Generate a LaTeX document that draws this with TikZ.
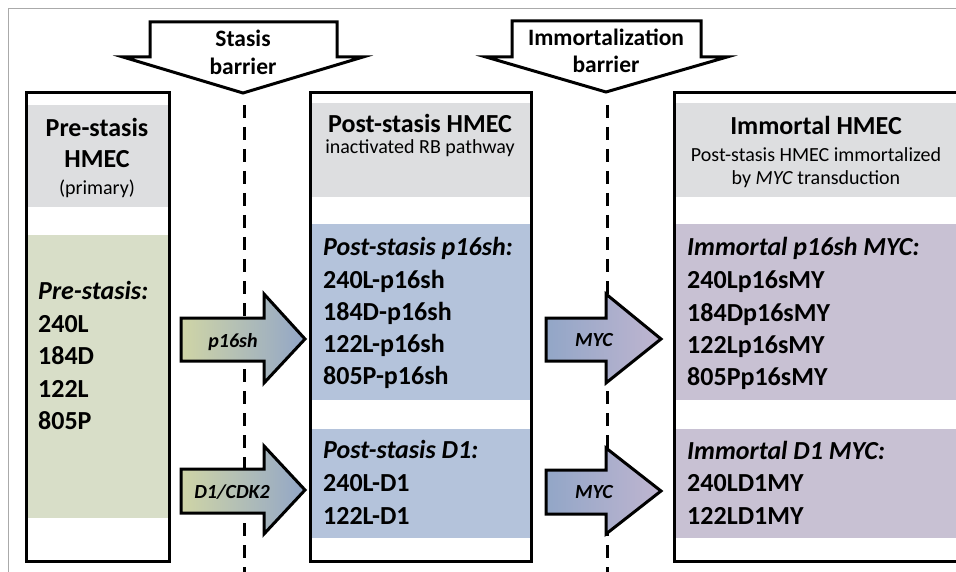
\documentclass[tikz,border=0pt]{standalone}
\usepackage{fontspec}
\setmainfont{Carlito}
\definecolor{hdrgray}{HTML}{DDDEE0}
\definecolor{bandgreen}{HTML}{D8DEC8}
\definecolor{bandblue}{HTML}{B4C3DB}
\definecolor{bandpurple}{HTML}{C8C1D3}
\definecolor{arrgreen}{HTML}{D0D5A6}
\definecolor{arrblue}{HTML}{92A6C7}
\definecolor{arrpurple}{HTML}{BFB5D0}
\definecolor{framegray}{HTML}{AAAAAA}
\begin{document}
\begin{tikzpicture}[x=1pt,y=-1pt,
  boxframe/.style={draw=black,line width=3pt},
  blockarrow/.style={draw=black,line width=3pt,line join=miter},
  barrierline/.style={draw=black,line width=3pt,dash pattern=on 13pt off 9pt},
  titletext/.style={inner sep=0pt,anchor=base,font=\bfseries\fontsize{26}{30}\selectfont},
  subtext/.style={inner sep=0pt,anchor=base,font=\fontsize{20}{24}\selectfont},
  itemtext/.style={inner sep=0pt,anchor=base west,font=\bfseries\fontsize{26}{30}\selectfont},
  headtext/.style={inner sep=0pt,anchor=base west,font=\bfseries\itshape\fontsize{26}{30}\selectfont},
  barriertext/.style={inner sep=0pt,anchor=base,font=\bfseries\fontsize{23.5}{27}\selectfont},
  arrowtext/.style={inner sep=0pt,anchor=base,font=\bfseries\itshape\fontsize{20}{23}\selectfont}]
\useasboundingbox (0,0) rectangle (956,572);
\fill[white] (0,0) rectangle (956,572);
% outer gray frame (cropped)
\draw[framegray,line width=1.5pt] (8.5,572) -- (8.5,8.5) -- (956,8.5);

% dashed barrier lines
\draw[barrierline] (244,105) -- (244,572);
\draw[barrierline] (607,105) -- (607,572);

% barrier arrows
\draw[blockarrow,fill=white] (150,22) -- (337,22) -- (337,57) -- (363,57) -- (243,93) -- (123,57) -- (150,57) -- cycle;
\node[barriertext] (stasis1) at (243,47) {Stasis};
\node[barriertext] (stasis2) at (243,75) {barrier};
\draw[blockarrow,fill=white] (512,21) -- (701,21) -- (701,57) -- (727,57) -- (606,92) -- (486,57) -- (512,57) -- cycle;
\node[barriertext] (imm1) at (606,46) {Immortalization};
\node[barriertext] (imm2) at (606,73) {barrier};

% box 1
\fill[white] (26,93) rectangle (169,561);
\fill[hdrgray] (26,105) rectangle (169,207);
\fill[bandgreen] (26,235) rectangle (169,518);
\draw[boxframe] (26,93) rectangle (169,561);
% box 2
\fill[white] (310,93) rectangle (531,561);
\fill[hdrgray] (310,103) rectangle (531,197);
\fill[bandblue] (310,224) rectangle (531,400);
\fill[bandblue] (310,429) rectangle (531,538);
\draw[boxframe] (310,93) rectangle (531,561);
% box 3
\fill[white] (674,93) rectangle (960,561);
\fill[hdrgray] (674,103) rectangle (960,197);
\fill[bandpurple] (674,224) rectangle (960,400);
\fill[bandpurple] (674,429) rectangle (960,538);
\draw[boxframe] (674,93) rectangle (960,561);

% box 1 text
\node[titletext] (pre1) at (97,137) {Pre-stasis};
\node[titletext] (pre2) at (97,168) {HMEC};
\node[subtext] (pre3) at (97,195) {(primary)};
\node[headtext] (preh) at (38,299) {Pre-stasis:};
\node[itemtext] (pa) at (38,332) {240L};
\node[itemtext] (pb) at (38,364) {184D};
\node[itemtext] (pc) at (38,397) {122L};
\node[itemtext] (pd) at (38,429) {805P};

% box 2 text
\node[titletext] (post1) at (420,133) {Post-stasis HMEC};
\node[subtext] (post2) at (420,154) {inactivated RB pathway};
\node[headtext] (posth) at (323,256) {Post-stasis p16sh:};
\node[itemtext] (qa) at (323,288) {240L-p16sh};
\node[itemtext] (qb) at (323,320) {184D-p16sh};
\node[itemtext] (qc) at (323,352) {122L-p16sh};
\node[itemtext] (qd) at (323,384) {805P-p16sh};
\node[headtext] (posth2) at (323,458) {Post-stasis D1:};
\node[itemtext] (qe) at (323,491) {240L-D1};
\node[itemtext] (qf) at (323,524) {122L-D1};

% box 3 text
\node[titletext] (im1) at (816,135) {Immortal HMEC};
\node[subtext] (im2) at (816,162) {Post-stasis HMEC immortalized};
\node[subtext] (im3) at (816,185) {by \textit{MYC} transduction};
\node[headtext] (imh) at (687,255) {Immortal p16sh MYC:};
\node[itemtext] (ra) at (687,288) {240Lp16sMY};
\node[itemtext] (rb) at (687,321) {184Dp16sMY};
\node[itemtext] (rc) at (687,353) {122Lp16sMY};
\node[itemtext] (rd) at (687,385) {805Pp16sMY};
\node[headtext] (imh2) at (687,459) {Immortal D1 MYC:};
\node[itemtext] (re) at (687,491) {240LD1MY};
\node[itemtext] (rf) at (687,524) {122LD1MY};

% transition arrows
\draw[blockarrow,left color=arrgreen,right color=arrblue] (181,318) -- (264,318) -- (264,294) -- (305,339) -- (264,383) -- (264,361) -- (181,361) -- cycle;
\node[arrowtext] (t1) at (233,347) {p16sh};
\draw[blockarrow,left color=arrgreen,right color=arrblue] (181,469) -- (264,469) -- (264,446) -- (305,490) -- (264,534) -- (264,513) -- (181,513) -- cycle;
\node[arrowtext] (t2) at (232,498) {D1/CDK2};
\draw[blockarrow,left color=arrblue,right color=arrpurple] (546,318) -- (606,318) -- (606,294) -- (661,339) -- (606,383) -- (606,361) -- (546,361) -- cycle;
\node[arrowtext] (t3) at (594,346) {MYC};
\draw[blockarrow,left color=arrblue,right color=arrpurple] (546,470) -- (606,470) -- (606,448) -- (661,491) -- (606,534) -- (606,514) -- (546,514) -- cycle;
\node[arrowtext] (t4) at (594,498) {MYC};
\end{tikzpicture}
\end{document}
